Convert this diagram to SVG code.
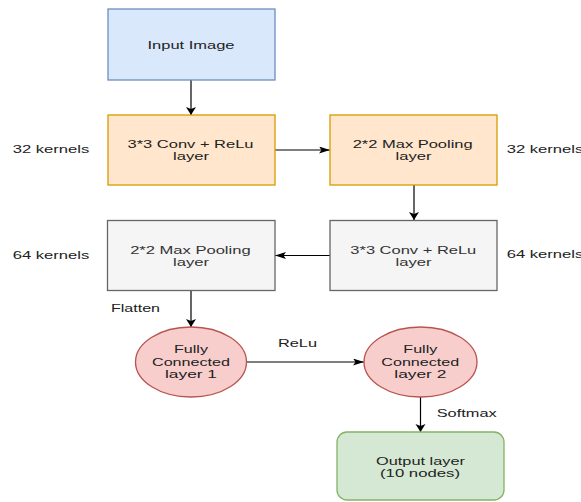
<svg xmlns="http://www.w3.org/2000/svg" width="581" height="502" viewBox="0 0 581 502">
<style>
text{font-family:"Liberation Sans",Arial,sans-serif;font-size:11px;fill:#222;}
.c{text-anchor:middle;}
.m{font-size:10.5px;}
.g text{fill:#333;}
.blue{fill:#dae8fc;stroke:#6c8ebf;stroke-width:1.3;}
.orange{fill:#ffe6cc;stroke:#d79b00;stroke-width:1.3;}
.gray{fill:#f5f5f5;stroke:#666;stroke-width:1.3;}
.red{fill:#f8cecc;stroke:#b85450;stroke-width:1.3;}
.green{fill:#d5e8d4;stroke:#82b366;stroke-width:1.3;}
.edge{stroke:#000;stroke-width:1.2;fill:none;}
</style>
<defs>
<marker id="aH" markerUnits="userSpaceOnUse" markerWidth="12" markerHeight="8" refX="11" refY="3.5" orient="auto">
<path d="M0,0 L11,3.5 L0,7 L2.5,3.5 z" fill="#000"/>
</marker>
<marker id="aV" markerUnits="userSpaceOnUse" markerWidth="9" markerHeight="11" refX="8" refY="5" orient="auto">
<path d="M0,0 L8,5 L0,10 L2,5 z" fill="#000"/>
</marker>
</defs>
<rect width="581" height="502" fill="#fff"/>
<g id="connectors">
<line class="edge" x1="191" y1="80" x2="191" y2="115" marker-end="url(#aV)"/>
<line class="edge" x1="275" y1="150" x2="330" y2="150" marker-end="url(#aH)"/>
<line class="edge" x1="414" y1="185" x2="414" y2="220" marker-end="url(#aV)"/>
<line class="edge" x1="330" y1="255.5" x2="275" y2="255.5" marker-end="url(#aH)"/>
<line class="edge" x1="191" y1="291" x2="191" y2="327" marker-end="url(#aV)"/>
<line class="edge" x1="246.5" y1="362" x2="364" y2="362" marker-end="url(#aH)"/>
<line class="edge" x1="420.5" y1="397" x2="420.5" y2="432" marker-end="url(#aV)"/>
<text x="278" y="346.7" textLength="39" lengthAdjust="spacingAndGlyphs">ReLu</text>
<text x="111" y="311.7" textLength="49" lengthAdjust="spacingAndGlyphs">Flatten</text>
<text x="436.7" y="417.3" textLength="60" lengthAdjust="spacingAndGlyphs">Softmax</text>
</g>
<g id="input">
<rect class="blue" x="108" y="9" width="167" height="71"/>
<text class="c" x="191" y="49" textLength="87" lengthAdjust="spacingAndGlyphs">Input Image</text>
</g>
<g id="conv1">
<rect class="orange" x="108" y="115" width="167" height="70"/>
<text class="c m" x="190.5" y="148" textLength="126" lengthAdjust="spacingAndGlyphs">3*3 Conv + ReLu</text>
<text class="c m" x="191" y="160" textLength="36" lengthAdjust="spacingAndGlyphs">layer</text>
</g>
<g id="pool1">
<rect class="orange" x="330" y="115" width="167" height="70"/>
<text class="c m" x="412.7" y="148" textLength="120" lengthAdjust="spacingAndGlyphs">2*2 Max Pooling</text>
<text class="c m" x="413.5" y="160" textLength="36" lengthAdjust="spacingAndGlyphs">layer</text>
</g>
<g id="conv2" class="g">
<rect class="gray" x="330" y="220.5" width="167" height="70"/>
<text class="c m" x="413.3" y="253.8" textLength="126" lengthAdjust="spacingAndGlyphs">3*3 Conv + ReLu</text>
<text class="c m" x="413.5" y="265.8" textLength="36" lengthAdjust="spacingAndGlyphs">layer</text>
</g>
<g id="pool2" class="g">
<rect class="gray" x="107.5" y="220.5" width="167.5" height="70"/>
<text class="c m" x="190.4" y="253.8" textLength="120.5" lengthAdjust="spacingAndGlyphs">2*2 Max Pooling</text>
<text class="c m" x="191" y="265.8" textLength="36" lengthAdjust="spacingAndGlyphs">layer</text>
</g>
<g id="fc1">
<ellipse class="red" cx="191" cy="362" rx="55.5" ry="35"/>
<text class="c" x="191" y="353.3" textLength="34" lengthAdjust="spacingAndGlyphs">Fully</text>
<text class="c" x="191" y="365.7" textLength="78" lengthAdjust="spacingAndGlyphs">Connected</text>
<text class="c" x="191" y="378" textLength="52" lengthAdjust="spacingAndGlyphs">layer 1</text>
</g>
<g id="fc2">
<ellipse class="red" cx="420.5" cy="362" rx="56.5" ry="35"/>
<text class="c" x="420.3" y="353.3" textLength="34" lengthAdjust="spacingAndGlyphs">Fully</text>
<text class="c" x="420.3" y="365.7" textLength="78" lengthAdjust="spacingAndGlyphs">Connected</text>
<text class="c" x="420.3" y="378" textLength="52" lengthAdjust="spacingAndGlyphs">layer 2</text>
</g>
<g id="output">
<rect class="green" x="337" y="432" width="167" height="68" rx="10"/>
<text class="c m" x="420.5" y="465.3" textLength="89" lengthAdjust="spacingAndGlyphs">Output layer</text>
<text class="c m" x="420" y="477.3" textLength="80" lengthAdjust="spacingAndGlyphs">(10 nodes)</text>
</g>
<g id="labels">
<text x="12.7" y="153.3" textLength="76.6" lengthAdjust="spacingAndGlyphs">32 kernels</text>
<text x="506.7" y="153.3" textLength="76.6" lengthAdjust="spacingAndGlyphs">32 kernels</text>
<text x="12.7" y="258.8" textLength="76.6" lengthAdjust="spacingAndGlyphs">64 kernels</text>
<text x="506.7" y="257.8" textLength="76.6" lengthAdjust="spacingAndGlyphs">64 kernels</text>
</g>
</svg>
